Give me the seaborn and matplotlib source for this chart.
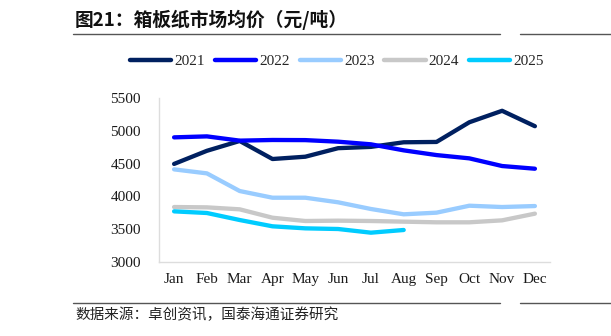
import matplotlib
matplotlib.use("Agg")
import matplotlib.pyplot as plt
import seaborn as sns
import pandas as pd
from matplotlib.lines import Line2D

months = ["Jan", "Feb", "Mar", "Apr", "May", "Jun", "Jul", "Aug", "Sep", "Oct", "Nov", "Dec"]
years = ["2021", "2022", "2023", "2024", "2025"]
v2021 = [4495, 4695, 4845, 4570, 4605, 4735, 4755, 4825, 4830, 5130, 5305, 5070]
v2022 = [4900, 4915, 4850, 4860, 4858, 4834, 4794, 4702, 4630, 4580, 4463, 4422]
v2023 = [4412, 4351, 4082, 3980, 3980, 3910, 3808, 3727, 3752, 3858, 3838, 3853]
v2024 = [3838, 3833, 3803, 3675, 3625, 3630, 3625, 3615, 3605, 3605, 3635, 3737]
v2025 = [3772, 3747, 3640, 3544, 3513, 3503, 3447, 3488]
yticks = [3000, 3500, 4000, 4500, 5000, 5500]
colors = ["#002060", "#0000FF", "#99CCFF", "#C8C8C8", "#00CCFF"]

series = [v2021, v2022, v2023, v2024, v2025]
rows = []
for y, vals in zip(years, series):
    for m, v in zip(months, vals):
        rows.append({"month": m, "year": y, "value": v})
df = pd.DataFrame(rows)
df["x"] = df["month"].map({m: i for i, m in enumerate(months)})

sns.set_style("white")
plt.rcParams["font.family"] = ["Liberation Serif", "Noto Sans CJK SC", "DejaVu Sans"]

fig = plt.figure(figsize=(6.11, 3.36), dpi=100)
ax = fig.add_axes([159/611, 1-262/336, (550-159)/611, (262-98)/336])

sns.lineplot(data=df, x="x", y="value", hue="year", hue_order=years,
             palette=dict(zip(years, colors)), linewidth=3.1, ax=ax,
             legend=False, solid_capstyle="round")

ax.set_xlim(-0.46, 11.46)
ax.set_ylim(3000, 5500)
ax.set_xticks(range(len(months)))
ax.set_xticklabels(months)
ax.set_yticks(yticks)
ax.set_yticklabels([str(t) for t in yticks])
ax.set_xlabel("")
ax.set_ylabel("")
ax.tick_params(axis="both", length=0, labelsize=11, colors="#1a1a1a")
ax.tick_params(axis="y", pad=13)
ax.tick_params(axis="x", pad=8)
for s in ["top", "right"]:
    ax.spines[s].set_visible(False)
for s in ["left", "bottom"]:
    ax.spines[s].set_color("#DDDDDD")
    ax.spines[s].set_linewidth(1.0)

handles = [Line2D([0], [0], color=c, lw=3.2, solid_capstyle="round") for c in colors]
fig.legend(handles, years, loc="center", bbox_to_anchor=(337/611, 1-61/336),
           ncol=5, frameon=False, fontsize=11, handlelength=2.7,
           handletextpad=0.2, columnspacing=0.65)

# title and rules
fig.text(75/611, 1-20/336, "图21：箱板纸市场均价（元/吨）", fontsize=13.5, fontweight="bold",
         family=["Noto Sans CJK SC", "DejaVu Sans"], va="center", ha="left", color="#111111")
fig.add_artist(Line2D([73/611, 500/611], [1-34/336, 1-34/336], color="#555555", lw=1.0))
fig.add_artist(Line2D([520/611, 611/611], [1-34/336, 1-34/336], color="#555555", lw=1.0))
fig.add_artist(Line2D([73/611, 500/611], [1-302.5/336, 1-302.5/336], color="#555555", lw=1.0))
fig.add_artist(Line2D([520/611, 611/611], [1-302.5/336, 1-302.5/336], color="#555555", lw=1.0))
fig.text(75/611, 1-315/336, "数据来源：卓创资讯，国泰海通证券研究", fontsize=10.5,
         family=["Noto Sans CJK SC", "DejaVu Sans"], va="center", ha="left", color="#222222")

fig.savefig("out.png", dpi=100)
